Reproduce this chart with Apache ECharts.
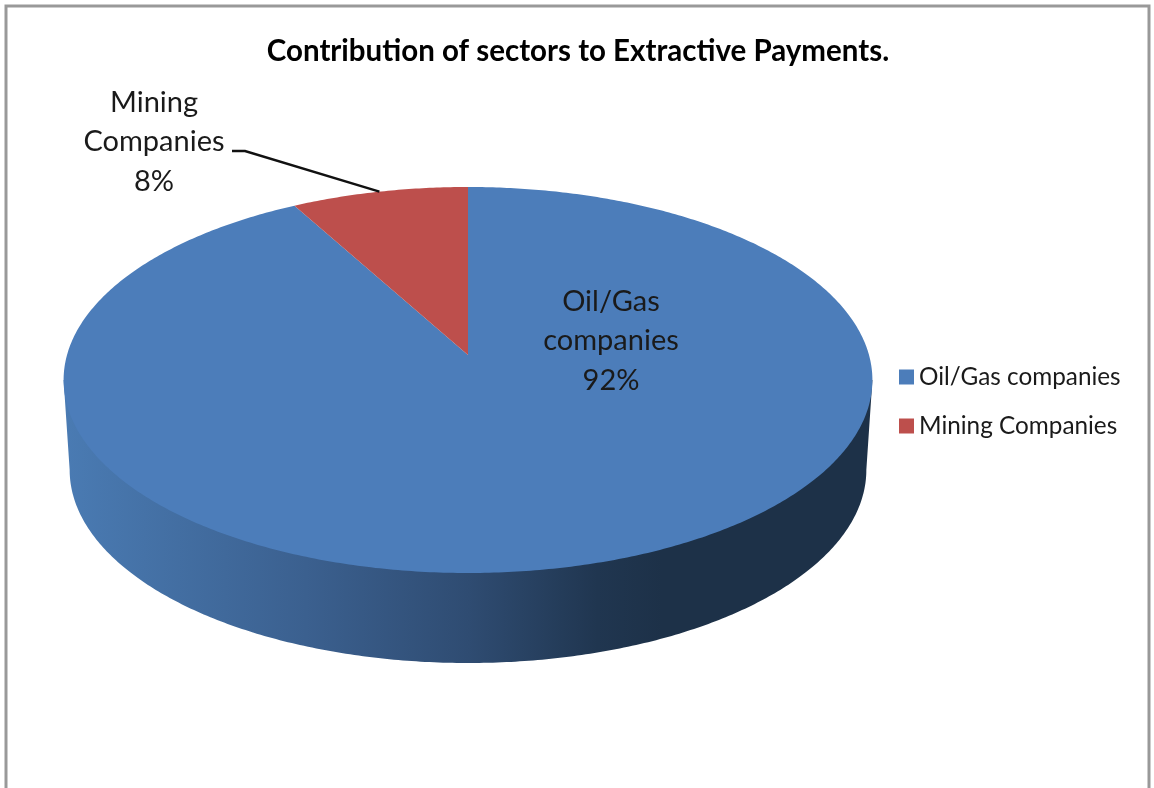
<!DOCTYPE html>
<html>
<head>
<meta charset="utf-8">
<style>html,body{margin:0;padding:0;background:#fff}#c{width:1154px;height:788px}</style>
<script src="https://cdn.jsdelivr.net/npm/echarts@6/dist/echarts.min.js"></script>
</head>
<body>
<div id="c"></div>
<script>
const categories = ['Oil/Gas companies', 'Mining Companies'];
const shares = [92, 8];
const chartTitle = 'Contribution of sectors to Extractive Payments.';

const FONT = 'Lato, "Noto Sans", sans-serif';
const total = shares.reduce((a, b) => a + b, 0);
const k = 0.1295;
function projectUV(u, v, drop, scale) {
  const d = 1 + k * v;
  return [468 + 401 * scale * u / d, (355 - 143.8 * v) / d + drop];
}
function project(t, drop, scale) {
  return projectUV(Math.sin(t), Math.cos(t), drop, scale);
}
function arc(t0, t1, drop, scale) {
  const n = Math.max(2, Math.ceil(Math.abs(t1 - t0) / 0.01)), out = [];
  for (let i = 0; i <= n; i++) out.push(project(t0 + (t1 - t0) * i / n, drop, scale));
  return out;
}
function sliceAngles(i) {
  const before = shares.slice(0, i).reduce((a, b) => a + b, 0);
  return [before / total * 2 * Math.PI, (before + shares[i]) / total * 2 * Math.PI];
}
function renderSide() {
  const a = Math.PI / 2 + Math.asin(k), b = 2 * Math.PI - a;
  const pts = [project(a, 0, 1)].concat(arc(a, b, 90, 0.985), [project(b, 0, 1)]);
  return {
    type: 'polygon',
    shape: { points: pts },
    style: {
      fill: new echarts.graphic.LinearGradient(63, 0, 873, 0, [
        { offset: 0, color: '#4a7bb3' },
        { offset: 0.3, color: '#3b608f' },
        { offset: 0.5, color: '#2f4c72' },
        { offset: 0.66, color: '#203650' },
        { offset: 0.74, color: '#1d3148' },
        { offset: 1, color: '#1d3148' }
      ], true)
    }
  };
}
const labelPlace = [
  { x: 611, y: 341 },
  { x: 154, y: 142 }
];
function renderSlice(i, color) {
  const [t0, t1] = sliceAngles(i);
  const name = categories[i];
  const children = [{
    type: 'polygon',
    shape: { points: [projectUV(0, 0, 0, 1)].concat(arc(t0, t1, 0, 1)) },
    style: { fill: color }
  }];
  if (i === 1) {
    children.push({
      type: 'polyline',
      shape: { points: [[232, 151], [245, 151], project((t0 + t1) / 2, 0, 1)] },
      style: { stroke: '#111', lineWidth: 2.4, fill: null }
    });
  }
  children.push({
    type: 'text',
    style: {
      text: name.replace(' ', '\n') + '\n' + Math.round(shares[i] / total * 100) + '%',
      x: labelPlace[i].x, y: labelPlace[i].y,
      align: 'center', verticalAlign: 'middle',
      font: '400 29px ' + FONT, lineHeight: 39.5, fill: '#1a1a1a'
    }
  });
  return { type: 'group', children };
}
const colors = ['#4c7dba', '#bd4f4c'];
const chart = echarts.init(document.getElementById('c'), null, { renderer: 'canvas' });
chart.setOption({
  animation: false,
  backgroundColor: '#fff',
  title: {
    text: chartTitle, left: 573, top: 31, textAlign: 'center',
    textStyle: { fontFamily: FONT, fontWeight: 700, fontSize: 29.5, color: '#000' }
  },
  legend: {
    orient: 'vertical', left: 899, top: 365, itemWidth: 15, itemHeight: 15, itemGap: 25,
    icon: 'rect', selectedMode: false, data: categories,
    textStyle: { fontFamily: FONT, fontSize: 24.3, color: '#1a1a1a' },
    padding: 0
  },
  graphic: [
    { type: 'polyline', silent: true, shape: { points: [[6, 788], [6, 6], [1149, 6], [1149, 788]] },
      style: { stroke: '#999', lineWidth: 3, fill: null } }
  ],
  series: [
    { type: 'custom', name: 'side', coordinateSystem: 'none', silent: true, data: [total], renderItem: renderSide },
    { type: 'custom', name: categories[0], coordinateSystem: 'none', silent: true, data: [shares[0]],
      itemStyle: { color: colors[0] }, renderItem: () => renderSlice(0, colors[0]) },
    { type: 'custom', name: categories[1], coordinateSystem: 'none', silent: true, data: [shares[1]],
      itemStyle: { color: colors[1] }, renderItem: () => renderSlice(1, colors[1]) }
  ]
});
</script>
</body>
</html>
